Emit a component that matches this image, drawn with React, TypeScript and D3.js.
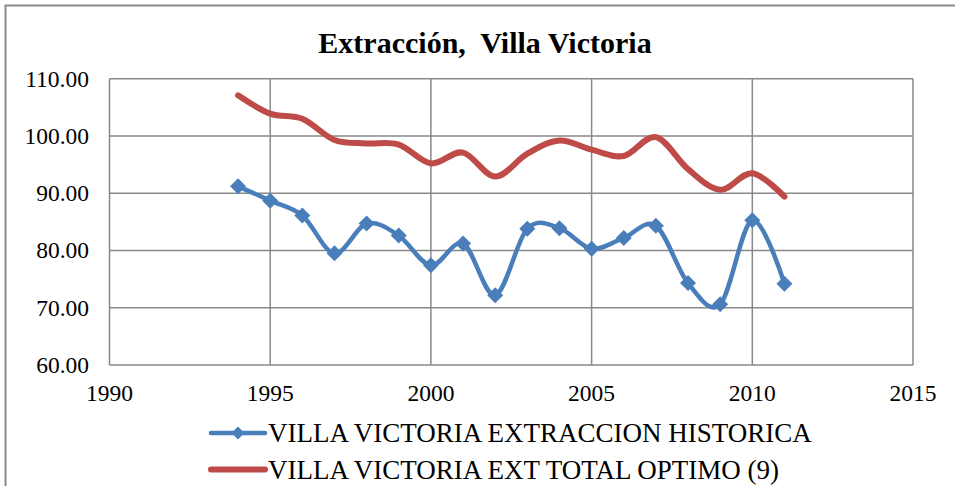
import React, { useEffect, useRef } from "react";
import * as d3 from "d3";

const years = [
  1994, 1995, 1996, 1997, 1998, 1999, 2000, 2001, 2002, 2003, 2004, 2005,
  2006, 2007, 2008, 2009, 2010, 2011,
];
const historica = [
  91.2, 88.7, 86.1, 79.5, 84.7, 82.6, 77.4, 81.2, 72.2, 83.8, 83.9, 80.3,
  82.2, 84.3, 74.3, 70.6, 85.3, 74.2,
];
const optimo = [
  107.1, 103.9, 103.0, 99.3, 98.7, 98.5, 95.2, 97.1, 92.9, 96.9, 99.2, 97.6,
  96.5, 99.8, 94.2, 90.6, 93.5, 89.4,
];
const xTicks = [1990, 1995, 2000, 2005, 2010, 2015];
const yTicks = [60, 70, 80, 90, 100, 110];
const seriesNames = [
  "VILLA VICTORIA EXTRACCION HISTORICA",
  "VILLA VICTORIA EXT TOTAL OPTIMO (9)",
];
const title = "Extracción,  Villa Victoria";

const width = 955;
const height = 486;
const blue = "#4a7ebb";
const red = "#be4b48";
const grid = "#898989";
const font = "'Liberation Serif', 'Times New Roman', serif";

const App: React.FC = () => {
  const svgRef = useRef<SVGSVGElement>(null);

  useEffect(() => {
    if (!svgRef.current) return;
    const svg = d3.select(svgRef.current);
    svg.selectAll("*").remove();

    const x = d3.scaleLinear().domain([1990, 2015]).range([109.5, 913]);
    const y = d3.scaleLinear().domain([60, 110]).range([365, 78.7]);

    // chart frame
    svg
      .append("rect")
      .attr("x", 5.5)
      .attr("y", 5.5)
      .attr("width", 1000)
      .attr("height", 1000)
      .attr("fill", "white")
      .attr("stroke", grid)
      .attr("stroke-width", 2);

    svg
      .append("text")
      .attr("x", 485)
      .attr("y", 53)
      .attr("text-anchor", "middle")
      .attr("font-family", font)
      .attr("font-weight", "bold")
      .attr("font-size", 30)
      .style("white-space", "pre")
      .text(title);

    // gridlines
    const g = svg.append("g");
    g.selectAll("line.h")
      .data(yTicks)
      .join("line")
      .attr("x1", x(1990))
      .attr("x2", x(2015))
      .attr("y1", (d) => y(d))
      .attr("y2", (d) => y(d))
      .attr("stroke", grid)
      .attr("stroke-width", 1.5);
    g.selectAll("line.v")
      .data(xTicks)
      .join("line")
      .attr("x1", (d) => x(d))
      .attr("x2", (d) => x(d))
      .attr("y1", y(110))
      .attr("y2", y(60))
      .attr("stroke", grid)
      .attr("stroke-width", 1.5);

    // tick labels
    svg
      .append("g")
      .selectAll("text")
      .data(yTicks)
      .join("text")
      .attr("x", 89)
      .attr("y", (d) => y(d) + 8)
      .attr("text-anchor", "end")
      .attr("font-family", font)
      .attr("font-size", 23.5)
      .text((d) => d.toFixed(2));
    svg
      .append("g")
      .selectAll("text")
      .data(xTicks)
      .join("text")
      .attr("x", (d) => x(d))
      .attr("y", y(60) + 36)
      .attr("text-anchor", "middle")
      .attr("font-family", font)
      .attr("font-size", 23.5)
      .text((d) => String(d));

    const line = d3
      .line<number>()
      .x((_, i) => x(years[i]))
      .y((d) => y(d))
      .curve(d3.curveCardinal.tension(0));

    svg
      .append("path")
      .datum(optimo)
      .attr("fill", "none")
      .attr("stroke", red)
      .attr("stroke-width", 6)
      .attr("stroke-linecap", "round")
      .attr("stroke-linejoin", "round")
      .attr("d", line);

    svg
      .append("path")
      .datum(historica)
      .attr("fill", "none")
      .attr("stroke", blue)
      .attr("stroke-width", 4.5)
      .attr("stroke-linecap", "round")
      .attr("stroke-linejoin", "round")
      .attr("d", line);

    const diamond = d3.symbol().type(d3.symbolSquare).size(128);
    svg
      .append("g")
      .selectAll("path")
      .data(historica)
      .join("path")
      .attr("d", diamond)
      .attr("fill", blue)
      .attr(
        "transform",
        (d, i) => `translate(${x(years[i])},${y(d)}) rotate(45)`
      );

    // legend
    const legendColors = [blue, red];
    const legendWidths = [4.5, 6];
    const lg = svg.append("g");
    seriesNames.forEach((name, i) => {
      const cy = 433 + i * 36.5;
      lg.append("line")
        .attr("x1", 211)
        .attr("x2", 265)
        .attr("y1", cy)
        .attr("y2", cy)
        .attr("stroke", legendColors[i])
        .attr("stroke-width", legendWidths[i])
        .attr("stroke-linecap", "round");
      if (i === 0) {
        lg.append("path")
          .attr("d", d3.symbol().type(d3.symbolSquare).size(85)())
          .attr("fill", blue)
          .attr("transform", `translate(238,${cy}) rotate(45)`);
      }
      lg.append("text")
        .attr("x", 268)
        .attr("y", cy + 9)
        .attr("font-family", font)
        .attr("font-size", 27)
        .text(name);
    });
  }, []);

  return (
    <svg
      ref={svgRef}
      width={width}
      height={height}
      style={{ position: "absolute", left: 0, top: 0 }}
    />
  );
};

export default App;
